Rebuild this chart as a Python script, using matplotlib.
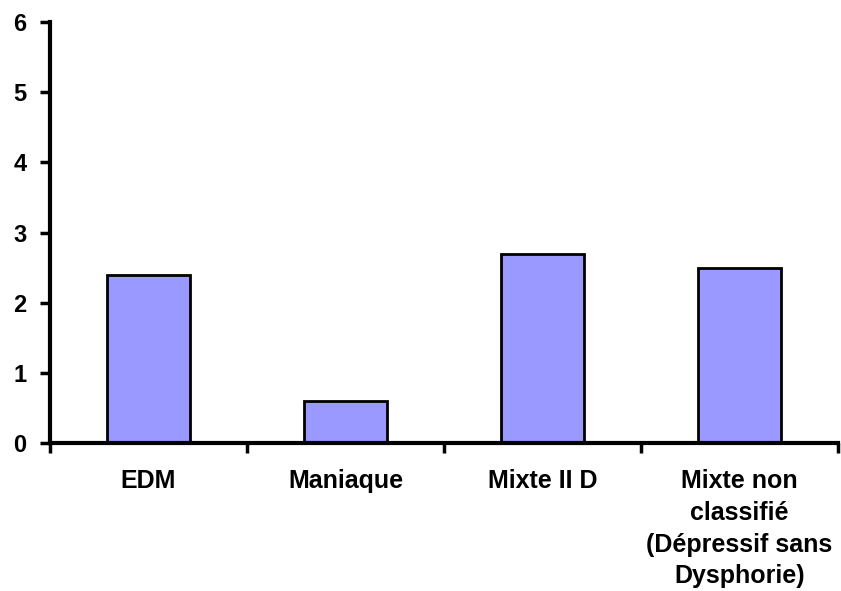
import numpy as np
import matplotlib.pyplot as plt

categories = ["EDM", "Maniaque", "Mixte II D", "Mixte non\nclassifié\n(Dépressif sans\nDysphorie)"]
values = [2.4, 0.6, 2.7, 2.5]
yticks = [0, 1, 2, 3, 4, 5, 6]

plt.rcParams['font.family'] = ['Liberation Sans', 'DejaVu Sans']
plt.rcParams['font.weight'] = 'bold'

fig = plt.figure(figsize=(8.41, 5.91), dpi=100)
ax = fig.add_axes([50/841, (591-443)/591, 788/841, (443-22)/591])

x = np.arange(len(categories))
ax.bar(x, values, width=0.42, color='#9999ff', edgecolor='black', linewidth=2, zorder=2)

ax.set_xlim(-0.5, len(categories) - 0.5)
ax.set_ylim(0, 6)
ax.set_yticks(yticks)
ax.set_yticklabels([str(v) for v in yticks], fontsize=17, fontweight='bold')

# category boundaries get the tick marks, labels sit at the centres
ax.set_xticks(np.arange(len(categories) + 1) - 0.5)
ax.set_xticklabels([])
ax.set_xticks(x, minor=True)
ax.set_xticklabels(categories, minor=True, fontsize=18, fontweight='bold', linespacing=1.4)
ax.tick_params(axis='x', which='minor', length=0, pad=19)
ax.tick_params(axis='x', which='major', length=7, width=2.5, direction='out')
ax.tick_params(axis='y', length=7, width=2.5, direction='out', pad=10)

for s in ['top', 'right']:
    ax.spines[s].set_visible(False)
for s in ['left', 'bottom']:
    ax.spines[s].set_linewidth(3)

fig.savefig('out.png', dpi=100)
